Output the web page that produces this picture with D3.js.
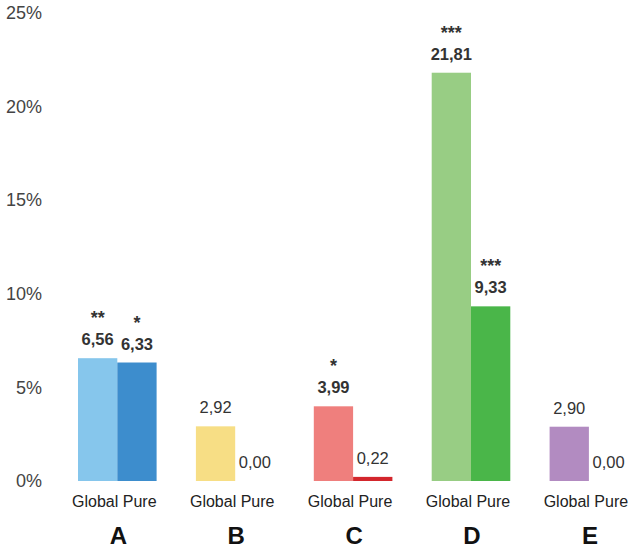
<!DOCTYPE html>
<html>
<head>
<meta charset="utf-8">
<script src="https://cdn.jsdelivr.net/npm/d3@7"></script>
<style>
  html, body { margin: 0; padding: 0; background: #fff; }
  svg { display: block; font-family: "Liberation Sans", Arial, Helvetica, sans-serif; }
</style>
</head>
<body>
<svg id="chart" width="633" height="549"></svg>
<script>
const groups = ["A", "B", "C", "D", "E"];
const series = ["Global", "Pure"];
const globalValues = [6.56, 2.92, 3.99, 21.81, 2.90];
const pureValues = [6.33, 0.00, 0.22, 9.33, 0.00];
const globalStars = ["**", "", "*", "***", ""];
const pureStars = ["*", "", "", "***", ""];
const globalColors = ["#86c6ec", "#f7de85", "#ef7f7d", "#98cd84", "#b28bc1"];
const pureColors = ["#3d8dcd", "#f7de85", "#d3262c", "#4ab649", "#b28bc1"];
const yTicks = [0, 5, 10, 15, 20, 25];

const svg = d3.select("#chart");

const x0 = d3.scaleBand().domain(groups).range([78, 628.2]).paddingInner(1 / 3).paddingOuter(0);
const x1 = d3.scaleBand().domain(series).range([0, x0.bandwidth()]).padding(0);
const y = d3.scaleLinear().domain([0, 25]).range([481, 13]);

const locale = d3.formatLocale({ decimal: ",", thousands: ".", grouping: [3], currency: ["", ""] });
const fmt = locale.format(".2f");

const data = [];
groups.forEach((g, i) => {
  data.push({ group: g, s: "Global", v: globalValues[i], star: globalStars[i], color: globalColors[i] });
  data.push({ group: g, s: "Pure", v: pureValues[i], star: pureStars[i], color: pureColors[i] });
});

// Y axis (labels only)
const yAxis = d3.axisLeft(y).tickValues(yTicks).tickFormat(d => d + "%").tickSize(0).tickPadding(0);
const yg = svg.append("g").attr("transform", "translate(42,0)").call(yAxis);
yg.select(".domain").remove();
yg.selectAll("text")
  .attr("fill", "#444")
  .style("font-size", "18px")
  .style("font-family", "'Liberation Sans', Arial, sans-serif");

// Bars
svg.append("g").selectAll("rect").data(data).join("rect")
  .attr("x", d => x0(d.group) + x1(d.s))
  .attr("width", x1.bandwidth())
  .attr("y", d => y(d.v))
  .attr("height", d => y(0) - y(d.v))
  .attr("fill", d => d.color);

// Value labels
svg.append("g").selectAll("text").data(data).join("text")
  .attr("x", d => x0(d.group) + x1(d.s) + x1.bandwidth() / 2)
  .attr("y", d => y(d.v) - 13)
  .attr("text-anchor", "middle")
  .attr("fill", "#333")
  .style("font-size", "16.5px")
  .style("font-weight", d => d.star ? "bold" : "normal")
  .text(d => fmt(d.v));

// Significance stars
svg.append("g").selectAll("text").data(data.filter(d => d.star)).join("text")
  .attr("x", d => x0(d.group) + x1(d.s) + x1.bandwidth() / 2)
  .attr("y", d => y(d.v) - 34)
  .attr("text-anchor", "middle")
  .attr("fill", "#333")
  .style("font-size", "18px")
  .style("font-weight", "bold")
  .text(d => d.star);

// Series labels under each group
svg.append("g").selectAll("text").data(groups).join("text")
  .attr("x", g => x0(g) + x0.bandwidth() / 2 - 3)
  .attr("y", 507)
  .attr("text-anchor", "middle")
  .attr("fill", "#222")
  .style("font-size", "16px")
  .text(series.join(" "));

// Group letters
svg.append("g").selectAll("text").data(groups).join("text")
  .attr("x", g => x0(g) + x0.bandwidth() / 2 + 1)
  .attr("y", 544)
  .attr("text-anchor", "middle")
  .attr("fill", "#111")
  .style("font-size", "24px")
  .style("font-weight", "bold")
  .text(g => g);
</script>
</body>
</html>
